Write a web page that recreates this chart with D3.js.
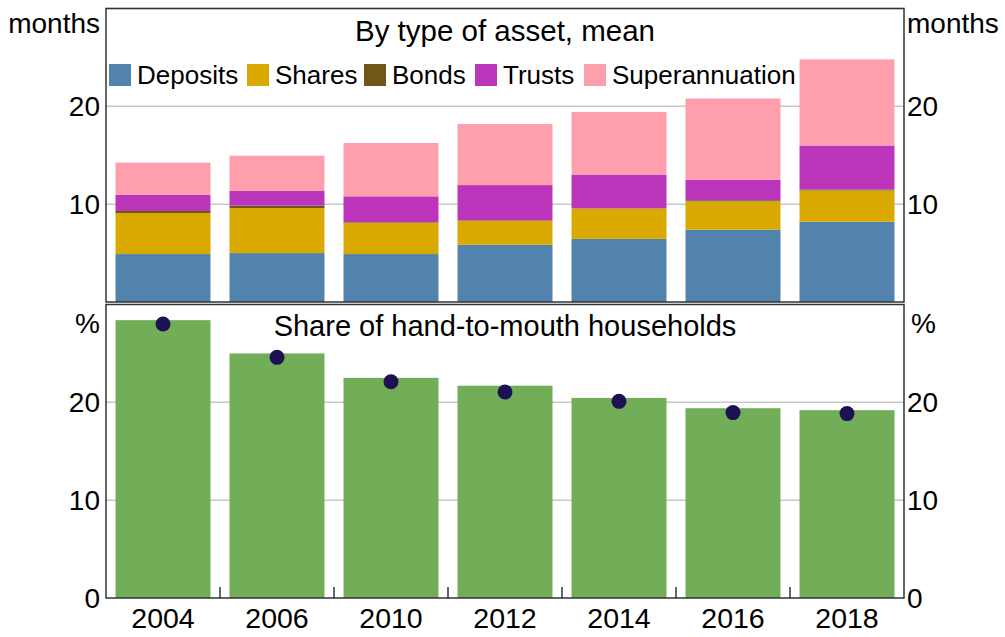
<!DOCTYPE html>
<html>
<head>
<meta charset="utf-8">
<script src="https://cdn.jsdelivr.net/npm/d3@7"></script>
<style>
  body { margin: 0; background: #fff; }
  svg text { font-family: "Liberation Sans", Arial, sans-serif; fill: #000; }
</style>
</head>
<body>
<svg id="chart" width="1005" height="637"></svg>
<script>
// data
var years = ["2004", "2006", "2010", "2012", "2014", "2016", "2018"];
var assetNames = ["Deposits", "Shares", "Bonds", "Trusts", "Superannuation"];
var deposits = [4.9, 5.0, 4.9, 5.85, 6.45, 7.4, 8.2];
var shares = [4.2, 4.6, 3.2, 2.45, 3.1, 2.9, 3.2];
var bonds = [0.2, 0.25, 0.05, 0.05, 0.03, 0.1, 0.1];
var trusts = [1.65, 1.5, 2.65, 3.6, 3.45, 2.1, 4.5];
var superann = [3.3, 3.6, 5.45, 6.25, 6.4, 8.3, 8.8];
var htmBars = [28.4, 25.0, 22.5, 21.7, 20.45, 19.4, 19.2];
var htmDots = [28.0, 24.6, 22.1, 21.05, 20.1, 18.95, 18.85];
var topTicks = [10, 20];
var bottomTicks = [0, 10, 20];

var assetColors = ["#5183ad", "#d9a900", "#6e5717", "#bb35bb", "#ff9fae"];

var svg = d3.select("#chart");
var left = 106, right = 904;

var x = d3.scaleBand()
    .domain(years)
    .range([left, right])
    .paddingInner(0.167)
    .paddingOuter(0.0835);

var yTop = d3.scaleLinear().domain([0, 30]).range([302, 8.5]);
var yBot = d3.scaleLinear().domain([0, 30]).range([598, 304.5]);

// ---------- top panel ----------
var rows = years.map(function(y, i) {
  return { year: y, Deposits: deposits[i], Shares: shares[i], Bonds: bonds[i],
           Trusts: trusts[i], Superannuation: superann[i] };
});
var stack = d3.stack().keys(assetNames)(rows);

svg.append("g").selectAll("line")
  .data(topTicks.concat([30]))
  .enter().append("line")
    .attr("x1", left).attr("x2", right)
    .attr("y1", function(d) { return yTop(d); })
    .attr("y2", function(d) { return yTop(d); })
    .attr("stroke", "#c8c8c8").attr("stroke-width", 1.5);

svg.append("g").selectAll("g")
  .data(stack)
  .enter().append("g")
    .attr("fill", function(d, i) { return assetColors[i]; })
  .selectAll("rect")
  .data(function(d) { return d; })
  .enter().append("rect")
    .attr("x", function(d) { return x(d.data.year); })
    .attr("width", x.bandwidth())
    .attr("y", function(d) { return yTop(d[1]); })
    .attr("height", function(d) { return yTop(d[0]) - yTop(d[1]); });

// top frame
svg.append("rect")
  .attr("x", left).attr("y", yTop(30))
  .attr("width", right - left).attr("height", yTop(0) - yTop(30))
  .attr("fill", "none").attr("stroke", "#333").attr("stroke-width", 1.5);

svg.append("text")
  .attr("x", (left + right) / 2).attr("y", 41)
  .attr("text-anchor", "middle").attr("font-size", 29.5)
  .text("By type of asset, mean");

// legend
var legendX = [109, 247, 364, 475, 584];
var legend = svg.append("g").selectAll("g")
  .data(assetNames)
  .enter().append("g")
    .attr("transform", function(d, i) { return "translate(" + legendX[i] + ",64)"; });
legend.append("rect")
  .attr("width", 22).attr("height", 22)
  .attr("fill", function(d, i) { return assetColors[i]; });
legend.append("text")
  .attr("x", 28).attr("y", 19.5).attr("font-size", 26)
  .text(function(d) { return d; });

svg.append("g").selectAll("text")
  .data(topTicks)
  .enter().append("text")
    .attr("x", 100).attr("y", function(d) { return yTop(d); })
    .attr("dy", "0.36em").attr("text-anchor", "end").attr("font-size", 28)
    .text(function(d) { return d; });
svg.append("g").selectAll("text")
  .data(topTicks)
  .enter().append("text")
    .attr("x", 907).attr("y", function(d) { return yTop(d); })
    .attr("dy", "0.36em").attr("font-size", 28)
    .text(function(d) { return d; });
svg.append("text").attr("x", 100).attr("y", 33).attr("text-anchor", "end")
  .attr("font-size", 28).text("months");
svg.append("text").attr("x", 907).attr("y", 33)
  .attr("font-size", 28).text("months");

// ---------- bottom panel ----------
svg.append("g").selectAll("line")
  .data([10, 20])
  .enter().append("line")
    .attr("x1", left).attr("x2", right)
    .attr("y1", function(d) { return yBot(d); })
    .attr("y2", function(d) { return yBot(d); })
    .attr("stroke", "#c8c8c8").attr("stroke-width", 1.5);

svg.append("g").selectAll("rect")
  .data(htmBars)
  .enter().append("rect")
    .attr("x", function(d, i) { return x(years[i]); })
    .attr("width", x.bandwidth())
    .attr("y", function(d) { return yBot(d); })
    .attr("height", function(d) { return yBot(0) - yBot(d); })
    .attr("fill", "#72ad57");

svg.append("g").selectAll("circle")
  .data(htmDots)
  .enter().append("circle")
    .attr("cx", function(d, i) { return x(years[i]) + x.bandwidth() / 2; })
    .attr("cy", function(d) { return yBot(d); })
    .attr("r", 7.5)
    .attr("fill", "#1b1153");

svg.append("rect")
  .attr("x", left).attr("y", yBot(30))
  .attr("width", right - left).attr("height", yBot(0) - yBot(30))
  .attr("fill", "none").attr("stroke", "#333").attr("stroke-width", 1.5);

// x ticks between categories
svg.append("g").selectAll("line")
  .data(years.slice(1))
  .enter().append("line")
    .attr("x1", function(d) { return x(d) - x.step() * x.paddingInner() / 2; })
    .attr("x2", function(d) { return x(d) - x.step() * x.paddingInner() / 2; })
    .attr("y1", yBot(0) - 11).attr("y2", yBot(0))
    .attr("stroke", "#333").attr("stroke-width", 1.5);

svg.append("g").selectAll("text")
  .data(years)
  .enter().append("text")
    .attr("x", function(d) { return x(d) + x.bandwidth() / 2; })
    .attr("y", 628).attr("text-anchor", "middle").attr("font-size", 28.5)
    .text(function(d) { return d; });

svg.append("g").selectAll("text")
  .data(bottomTicks)
  .enter().append("text")
    .attr("x", 100).attr("y", function(d) { return yBot(d); })
    .attr("dy", "0.36em").attr("text-anchor", "end").attr("font-size", 28)
    .text(function(d) { return d; });
svg.append("g").selectAll("text")
  .data(bottomTicks)
  .enter().append("text")
    .attr("x", 907).attr("y", function(d) { return yBot(d); })
    .attr("dy", "0.36em").attr("font-size", 28)
    .text(function(d) { return d; });
svg.append("text").attr("x", 100).attr("y", 333).attr("text-anchor", "end")
  .attr("font-size", 28).text("%");
svg.append("text").attr("x", 911).attr("y", 333)
  .attr("font-size", 28).text("%");

svg.append("text")
  .attr("x", (left + right) / 2).attr("y", 336)
  .attr("text-anchor", "middle").attr("font-size", 29)
  .text("Share of hand-to-mouth households");
</script>
</body>
</html>
